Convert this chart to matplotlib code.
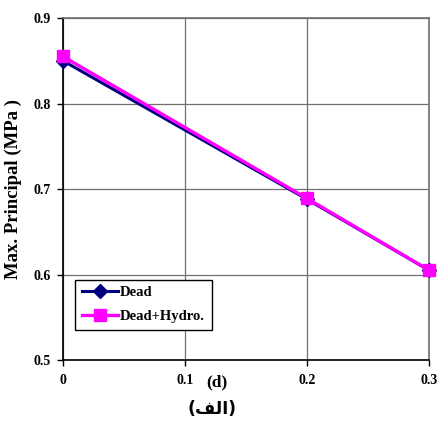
import matplotlib
matplotlib.use("Agg")
import matplotlib.pyplot as plt

# Data
x_vals = [0.0, 0.2, 0.3]
dead = [0.850, 0.688, 0.605]
dead_hydro = [0.855, 0.689, 0.605]
series_labels = ["Dead", "Dead+Hydro."]
x_ticks = [0.0, 0.1, 0.2, 0.3]
x_tick_labels = ["0", "0.1", "0.2", "0.3"]
y_ticks = [0.5, 0.6, 0.7, 0.8, 0.9]
y_tick_labels = ["0.5", "0.6", "0.7", "0.8", "0.9"]

serif = ["Liberation Serif", "DejaVu Serif"]

fig = plt.figure(figsize=(4.38, 4.23), dpi=100)
ax = fig.add_axes([0.1438, 0.1489, 0.8357, 0.8085])

ax.plot(x_vals, dead, color="#000080", lw=2.2, marker="D", ms=7,
        mfc="#000080", mec="#000080", label=series_labels[0], zorder=3,
        clip_on=False)
ax.plot(x_vals, dead_hydro, color="#FF00FF", lw=2.4, marker="s", ms=9,
        mfc="#FF00FF", mec="#FF00FF", label=series_labels[1], zorder=4,
        clip_on=False)

ax.set_xlim(0, 0.3)
ax.set_ylim(0.5, 0.9)
ax.set_xticks(x_ticks)
ax.set_xticklabels(x_tick_labels, fontfamily=serif, fontweight="bold", fontsize=10)
ax.set_yticks(y_ticks)
ax.set_yticklabels(y_tick_labels, fontfamily=serif, fontweight="bold", fontsize=10)
ax.tick_params(axis="both", direction="out", length=4, width=1, color="black")
ax.tick_params(axis="x", pad=6)
ax.tick_params(axis="y", pad=5)

ax.grid(True, color="#707070", lw=0.9)
ax.set_axisbelow(True)
for side in ("left", "bottom"):
    ax.spines[side].set_color("black")
    ax.spines[side].set_linewidth(1.2)
for side in ("top", "right"):
    ax.spines[side].set_color("#707070")
    ax.spines[side].set_linewidth(1.2)

ax.set_ylabel("Max. Principal (MPa )", fontfamily=serif, fontweight="bold",
              fontsize=13.5, labelpad=8)

fig.text(217 / 438, 1 - 382 / 423, "(d)", ha="center", va="center",
         fontfamily=serif, fontweight="bold", fontsize=12.5)
# Arabic caption in visual order with contextual presentation forms
fig.text(212 / 438, 1 - 409 / 423, "(\uFED2\uFEDF\uFE8D)", ha="center",
         va="center", fontfamily=["DejaVu Sans"], fontweight="bold",
         fontsize=12.5)

leg = ax.legend(loc="lower left", bbox_to_anchor=(12 / 366, 30 / 342),
                prop={"family": serif, "weight": "bold", "size": 10.5},
                frameon=True, fancybox=False, edgecolor="black",
                framealpha=1, borderpad=0.45, handlelength=2.5,
                handletextpad=0.15, labelspacing=0.75, borderaxespad=0)
leg.get_frame().set_linewidth(1)

fig.savefig("out.png", dpi=100)
